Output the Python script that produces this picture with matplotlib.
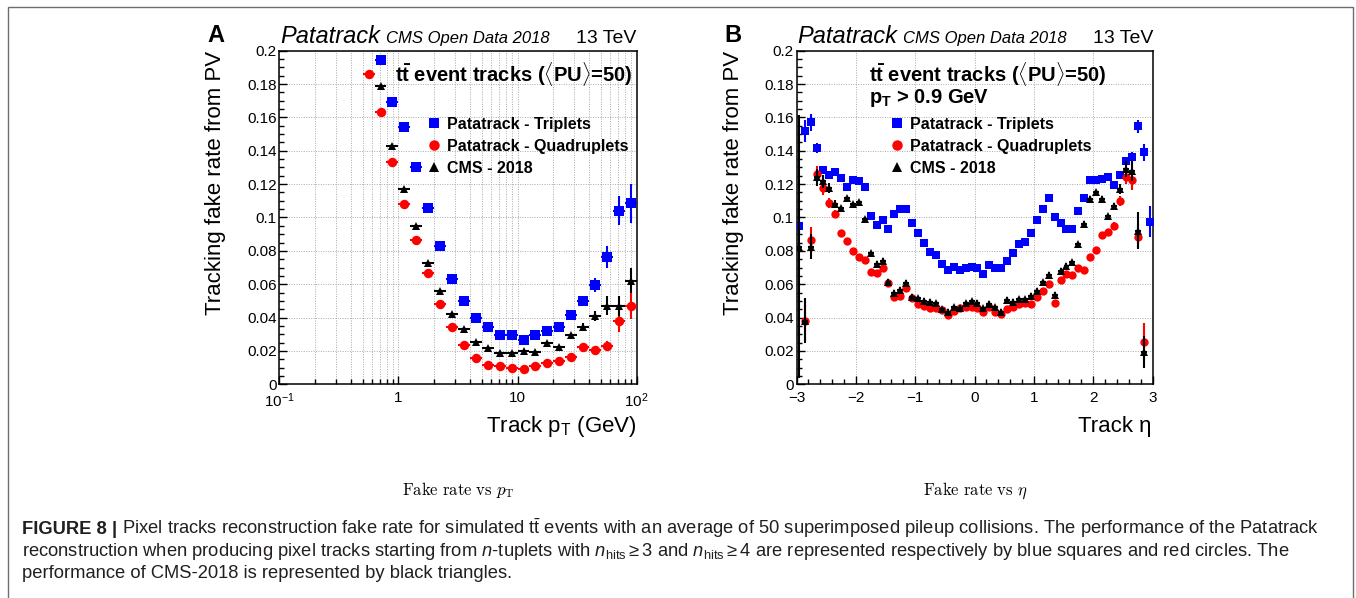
import numpy as np
import matplotlib
matplotlib.use('Agg')
import matplotlib.pyplot as plt
from matplotlib.ticker import MultipleLocator, LogLocator, FuncFormatter, NullFormatter
from matplotlib.lines import Line2D
from matplotlib.patches import Rectangle

plt.rcParams['font.family'] = ['Liberation Sans', 'DejaVu Sans']
plt.rcParams['mathtext.fontset'] = 'custom'
plt.rcParams['mathtext.rm'] = 'Liberation Sans'
plt.rcParams['mathtext.it'] = 'Liberation Sans:italic'
plt.rcParams['mathtext.bf'] = 'Liberation Sans:bold'

nan = np.nan

# ---------------- data: fake rate vs pT ----------------
pt_edges = [0.501, 0.631, 0.794, 1.0, 1.259, 1.585, 1.995, 2.512, 3.162, 3.981, 5.012, 6.310,
            7.943, 10.0, 12.59, 15.85, 19.95, 25.12, 31.62, 39.81, 50.12, 63.10, 79.43, 100.0]
pt_triplets = [nan, 0.1946, 0.1694, 0.154, 0.130, 0.1056, 0.083, 0.0632, 0.050, 0.0396, 0.0346,
               0.0298, 0.0298, 0.0266, 0.0298, 0.032, 0.0342, 0.0418, 0.0498, 0.0596, 0.0762,
               0.104, 0.1084]
pt_triplets_err = [nan, 0.0015, 0.0012, 0.0012, 0.001, 0.001, 0.001, 0.001, 0.001, 0.001, 0.001,
                   0.001, 0.001, 0.001, 0.001, 0.001, 0.0012, 0.0015, 0.002, 0.004, 0.0065,
                   0.0087, 0.0115]
pt_quadruplets = [0.186, 0.163, 0.133, 0.108, 0.0864, 0.067, 0.0484, 0.0342, 0.0234, 0.016,
                  0.0116, 0.0108, 0.010, 0.0094, 0.0108, 0.0126, 0.0138, 0.0164, 0.0224, 0.0208,
                  0.0232, 0.0382, 0.0472]
pt_quadruplets_err = [0.0012, 0.0012, 0.001, 0.001, 0.001, 0.001, 0.001, 0.001, 0.0008, 0.0008,
                      0.0008, 0.0008, 0.0008, 0.0008, 0.0008, 0.0008, 0.001, 0.0012, 0.0015,
                      0.0018, 0.003, 0.007, 0.008]
pt_cms = [nan, 0.179, 0.143, 0.117, 0.0948, 0.073, 0.0562, 0.0422, 0.0334, 0.0254, 0.022, 0.0186,
          0.019, 0.020, 0.0196, 0.0246, 0.0226, 0.0294, 0.0346, 0.041, 0.0472, 0.0468, 0.0622]
pt_cms_err = [nan, 0.0012, 0.001, 0.001, 0.001, 0.001, 0.001, 0.001, 0.0008, 0.0008, 0.0008,
              0.0008, 0.0008, 0.0008, 0.0008, 0.001, 0.001, 0.0012, 0.002, 0.003, 0.0055, 0.006,
              0.0075]

# ---------------- data: fake rate vs eta ----------------
eta_centers = [-2.95, -2.85, -2.75, -2.65, -2.55, -2.45, -2.35, -2.25, -2.15, -2.05,
               -1.95, -1.85, -1.75, -1.65, -1.55, -1.45, -1.35, -1.25, -1.15, -1.05,
               -0.95, -0.85, -0.75, -0.65, -0.55, -0.45, -0.35, -0.25, -0.15, -0.05,
               0.05, 0.15, 0.25, 0.35, 0.45, 0.55, 0.65, 0.75, 0.85, 0.95,
               1.05, 1.15, 1.25, 1.35, 1.45, 1.55, 1.65, 1.75, 1.85, 1.95,
               2.05, 2.15, 2.25, 2.35, 2.45, 2.55, 2.65, 2.75, 2.85, 2.95]
eta_half_width = 0.05
eta_triplets = [0.095, 0.152, 0.157, 0.1416, 0.1286, 0.1254, 0.1272, 0.1234, 0.1183, 0.1223,
                0.122, 0.118, 0.1006, 0.0958, 0.0988, 0.0933, 0.102, 0.1048, 0.1048, 0.097,
                0.0906, 0.085, 0.0795, 0.0777, 0.0724, 0.0688, 0.0706, 0.0686, 0.0695, 0.0704,
                0.070, 0.0664, 0.0717, 0.070, 0.070, 0.0741, 0.0786, 0.084, 0.0856, 0.091,
                0.0988, 0.1052, 0.1114, 0.100, 0.0966, 0.093, 0.093, 0.1041, 0.1119, 0.1222,
                0.1222, 0.1231, 0.1241, 0.1196, 0.1255, 0.134, 0.136, 0.1546, 0.139, 0.0976]
eta_triplets_err = [0.006, 0.0065, 0.005, 0.003, 0.002, 0.002, 0.0015, 0.0015, 0.0015, 0.0015,
                    0.0015, 0.0015, 0.0015, 0.0015, 0.0015, 0.0015, 0.0015, 0.0015, 0.0015, 0.0015,
                    0.0015, 0.0015, 0.0015, 0.0015, 0.0015, 0.0015, 0.0015, 0.0015, 0.0015, 0.0015,
                    0.0015, 0.0015, 0.0015, 0.0015, 0.0015, 0.0015, 0.0015, 0.0015, 0.0015, 0.0015,
                    0.0015, 0.0015, 0.0015, 0.0015, 0.0015, 0.0015, 0.0015, 0.0015, 0.0015, 0.0015,
                    0.0015, 0.0015, 0.0015, 0.0015, 0.002, 0.002, 0.003, 0.004, 0.005, 0.009]
eta_quadruplets = [nan, 0.038, 0.0866, 0.126, 0.1176, 0.1086, 0.102, 0.091, 0.086, 0.080,
                   0.0766, 0.0746, 0.0676, 0.067, 0.070, 0.0606, 0.0526, 0.053, 0.0576, 0.052,
                   0.0482, 0.047, 0.046, 0.0456, 0.0446, 0.0416, 0.0442, 0.0456, 0.0466, 0.0461,
                   0.0456, 0.0432, 0.0462, 0.0432, 0.042, 0.045, 0.0466, 0.048, 0.0486, 0.048,
                   0.0526, 0.056, 0.060, 0.0486, 0.0624, 0.066, 0.0656, 0.070, 0.0686, 0.0766,
                   0.0806, 0.0896, 0.0912, 0.0952, 0.1096, 0.1242, 0.1226, 0.0886, 0.0256, nan]
eta_quadruplets_err = [nan, 0.012, 0.0075, 0.005, 0.004, 0.003, 0.0025, 0.0015, 0.0015, 0.0015,
                       0.0015, 0.0015, 0.0015, 0.0015, 0.0015, 0.0015, 0.0015, 0.0015, 0.0015, 0.0015,
                       0.0015, 0.0015, 0.0015, 0.0015, 0.0015, 0.0015, 0.0015, 0.0015, 0.0015, 0.0015,
                       0.0015, 0.0015, 0.0015, 0.0015, 0.0015, 0.0015, 0.0015, 0.0015, 0.0015, 0.0015,
                       0.0015, 0.0015, 0.0015, 0.0015, 0.0015, 0.0015, 0.0015, 0.0015, 0.0015, 0.0015,
                       0.0015, 0.0015, 0.0015, 0.002, 0.003, 0.004, 0.006, 0.0075, 0.011, nan]
eta_cms = [0.0826, 0.038, 0.0826, 0.124, 0.1216, 0.1176, 0.108, 0.1056, 0.1116, 0.108,
           0.109, 0.099, 0.0786, 0.0722, 0.0742, 0.0616, 0.055, 0.0566, 0.061, 0.0526,
           0.0516, 0.050, 0.0494, 0.0486, 0.045, 0.0436, 0.0462, 0.0458, 0.0486, 0.0498,
           0.049, 0.0456, 0.0482, 0.0462, 0.0436, 0.0506, 0.0496, 0.051, 0.051, 0.053,
           0.0562, 0.0612, 0.0656, 0.0536, 0.0682, 0.0712, 0.0732, 0.084, 0.0962, 0.1112,
           0.1152, 0.1112, 0.1006, 0.1066, 0.117, 0.129, 0.128, 0.092, 0.0195, nan]
eta_cms_err = [0.079, 0.0135, 0.0075, 0.005, 0.004, 0.003, 0.0025, 0.0015, 0.0015, 0.0015,
               0.0015, 0.0015, 0.0015, 0.0015, 0.0015, 0.0015, 0.0015, 0.0015, 0.0015, 0.0015,
               0.0015, 0.0015, 0.0015, 0.0015, 0.0015, 0.0015, 0.0015, 0.0015, 0.0015, 0.0015,
               0.0015, 0.0015, 0.0015, 0.0015, 0.0015, 0.0015, 0.0015, 0.0015, 0.0015, 0.0015,
               0.0015, 0.0015, 0.0015, 0.0015, 0.0015, 0.0015, 0.0015, 0.0015, 0.0015, 0.0015,
               0.0015, 0.0015, 0.0015, 0.002, 0.003, 0.005, 0.006, 0.011, 0.0095, nan]

series_labels = ['Patatrack - Triplets', 'Patatrack - Quadruplets', 'CMS - 2018']
yticks = [0, 0.02, 0.04, 0.06, 0.08, 0.1, 0.12, 0.14, 0.16, 0.18, 0.2]

# ---------------- figure ----------------
W, H = 1356, 598
fig = plt.figure(figsize=(W / 100, H / 100), dpi=100)
fig.patch.set_facecolor('white')


def fx(x):
    return x / W


def fy(y):
    return 1 - y / H


BLUE, RED, BLACK = '#0000ff', '#ff0000', '#000000'
GRID = dict(ls=(0, (1, 1.5)), color='#aaaaaa', lw=0.7)
styles = [dict(fmt='s', color=BLUE, zorder=3),
          dict(fmt='o', color=RED, zorder=4),
          dict(fmt='^', color=BLACK, zorder=5)]


def draw(ax, x, xlo, xhi, ys, errs, msizes):
    x = np.asarray(x, float)
    for y, e, st, ms in zip(ys, errs, styles, msizes):
        y = np.asarray(y, float)
        e = np.asarray(e, float)
        m = np.isfinite(y)
        ax.errorbar(x[m], y[m], yerr=e[m], xerr=[np.asarray(xlo)[m], np.asarray(xhi)[m]],
                    fmt=st['fmt'], color=st['color'], ms=ms, mew=0, elinewidth=1.5,
                    capsize=0, zorder=st['zorder'])


def style_axes(ax):
    ax.set_ylim(0, 0.2)
    ax.set_yticks(yticks)
    ax.yaxis.set_minor_locator(MultipleLocator(0.005))
    ax.yaxis.set_major_formatter(FuncFormatter(lambda v, p: f'{v:g}'))
    ax.tick_params(which='both', direction='in', top=False, right=False, width=1.0,
                   labelsize=11)
    ax.tick_params(which='major', length=6)
    ax.tick_params(which='minor', length=3.5)
    ax.tick_params(axis='y', pad=2)
    ax.tick_params(axis='x', pad=5)
    ax.set_axisbelow(True)
    for s in ax.spines.values():
        s.set_linewidth(1.1)


# ---- panel A ----
axA = fig.add_axes([fx(279.3), fy(384.3), (636.7 - 279.3) / W, (384.3 - 50.7) / H])
edges = np.asarray(pt_edges)
pt_c = np.sqrt(edges[:-1] * edges[1:])
draw(axA, pt_c, pt_c - edges[:-1], edges[1:] - pt_c,
     [pt_triplets, pt_quadruplets, pt_cms], [pt_triplets_err, pt_quadruplets_err, pt_cms_err],
     [7.0, 6.8, 6.2])
axA.set_xscale('log')
axA.set_xlim(0.1, 100)
style_axes(axA)
axA.set_xticks([0.1, 1, 10, 100], labels=[r'10$^{-1}$', '1', '10', r'10$^{2}$'])
axA.xaxis.set_minor_locator(LogLocator(base=10, subs=np.arange(2, 10)))
axA.xaxis.set_minor_formatter(NullFormatter())
axA.grid(True, which='both', axis='x', **GRID)
axA.grid(True, which='major', axis='y', **GRID)

# ---- panel B ----
axB = fig.add_axes([fx(796.5), fy(384.3), (1152.5 - 796.5) / W, (384.3 - 50.7) / H])
hw = [eta_half_width] * len(eta_centers)
draw(axB, eta_centers, hw, hw,
     [eta_triplets, eta_quadruplets, eta_cms], [eta_triplets_err, eta_quadruplets_err, eta_cms_err],
     [6.3, 6.0, 5.6])
axB.set_xlim(-3, 3)
style_axes(axB)
axB.xaxis.set_major_locator(MultipleLocator(1))
axB.xaxis.set_minor_locator(MultipleLocator(0.2))
axB.grid(True, which='major', axis='both', **GRID)

# ---- texts ----
renderer = fig.canvas.get_renderer()


def text_right(t):
    return t.get_window_extent(renderer).x1


for off, letter, ylx in [(0, 'A', 216), (517.2, 'B', 733)]:
    fig.text(fx(207 + off), fy(42), letter, fontsize=17, weight='bold', va='baseline')
    t1 = fig.text(fx(280 + off), fy(43), 'Patatrack', fontsize=17, style='italic', va='baseline')
    x1 = text_right(t1)
    fig.text((x1 + 6) / W, fy(43), 'CMS Open Data 2018', fontsize=12, style='italic', va='baseline')
    fig.text(fx(636 + off), fy(43), '13 TeV', fontsize=14, ha='right', va='baseline')
    fig.text(fx(ylx), fy(51), 'Tracking fake rate from PV', fontsize=16, rotation=90,
             ha='center', va='top')

title = r'$\mathbf{t\bar{t}}$ event tracks ($\langle$PU$\rangle$=50)'
fig.text(fx(633), fy(82), title, fontsize=14.5, weight='bold', ha='right', va='baseline')
fig.text(fx(869), fy(82), title, fontsize=14.5, weight='bold', ha='left', va='baseline')
fig.text(fx(869), fy(103), r'p$_{\mathbf{T}}$ > 0.9 GeV', fontsize=14.5, weight='bold',
         ha='left', va='baseline')

fig.text(fx(637), fy(432), r'Track p$_{\mathregular{T}}$ (GeV)', fontsize=16, ha='right',
         va='baseline')
fig.text(fx(1152), fy(432), 'Track η', fontsize=16, ha='right', va='baseline')

# legends
handles = [Line2D([], [], marker='s', color=BLUE, ls='none', ms=7.5, mew=0),
           Line2D([], [], marker='o', color=RED, ls='none', ms=7.5, mew=0),
           Line2D([], [], marker='^', color=BLACK, ls='none', ms=6.5, mew=0)]
for ax, lx in [(axA, 426), (axB, 889)]:
    ax.legend(handles, series_labels, loc='upper left', bbox_to_anchor=(fx(lx), fy(117)),
              bbox_transform=fig.transFigure, frameon=False, borderpad=0, borderaxespad=0,
              handlelength=1.0, handletextpad=0.3, labelspacing=0.43,
              prop=dict(family='Liberation Sans', weight='bold', size=11.5))

# sub-captions
fig.text(fx(458), fy(495), r'$\mathrm{Fake\ rate\ vs\ }p_\mathrm{T}$', math_fontfamily='cm',
         fontsize=12, ha='center', va='baseline')
fig.text(fx(975), fy(495), r'$\mathrm{Fake\ rate\ vs\ }\eta$', math_fontfamily='cm',
         fontsize=12, ha='center', va='baseline')

# caption
CAP = '#231f20'
line1 = (r' Pixel tracks reconstruction fake rate for simulated $\mathrm{t\bar{t}}$ events with an '
         r'average of 50 superimposed pileup collisions. The performance of the Patatrack')
line2 = (r'reconstruction when producing pixel tracks starting from $n$-tuplets with '
         r'$n_{\mathrm{hits}}\geq 3$ and $n_{\mathrm{hits}}\geq 4$ are represented respectively '
         r'by blue squares and red circles. The')
line3 = 'performance of CMS-2018 is represented by black triangles.'
probe = fig.text(fx(22), fy(556), line2, fontsize=12, color=CAP, va='baseline')
wpx = probe.get_window_extent(renderer).width
cap_size = 12 * (1286 - 22) / wpx
probe.remove()
tb = fig.text(fx(22), fy(534), 'FIGURE 8 |', fontsize=cap_size, weight='bold', color=CAP,
              va='baseline')
xb = text_right(tb)
fig.text(xb / W, fy(534), line1, fontsize=cap_size, color=CAP, va='baseline')
fig.text(fx(22), fy(556), line2, fontsize=cap_size, color=CAP, va='baseline')
fig.text(fx(22), fy(578), line3, fontsize=cap_size, color=CAP, va='baseline')

# outer frame
fig.add_artist(Rectangle((fx(7.5), fy(640)), (1353 - 7.5) / W, (640 - 6.5) / H,
                         transform=fig.transFigure, fill=False, edgecolor='#6d6d6d', lw=1.0))

fig.savefig('out.png', dpi=100)
